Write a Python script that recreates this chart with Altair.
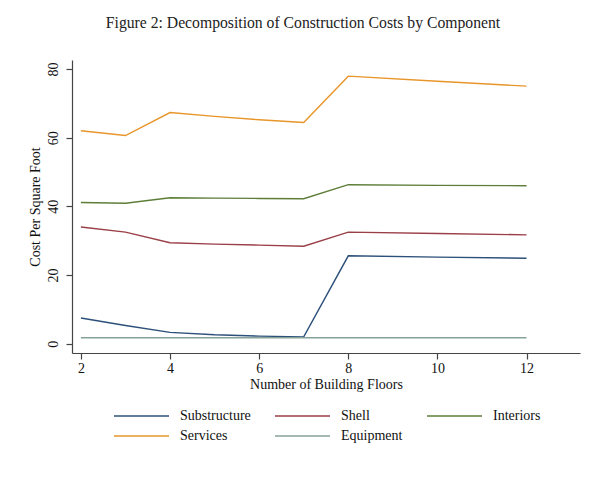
import altair as alt
import pandas as pd

floors = [2, 3, 4, 5, 6, 7, 8, 10, 12]
substructure = [7.5, 5.3, 3.3, 2.6, 2.2, 2.0, 25.6, 25.2, 24.9]
shell = [34.0, 32.5, 29.4, 29.0, 28.7, 28.4, 32.5, 32.1, 31.7]
interiors = [41.1, 40.9, 42.5, 42.4, 42.3, 42.2, 46.3, 46.1, 46.0]
services = [62.0, 60.6, 67.3, 66.2, 65.2, 64.4, 77.9, 76.4, 75.0]
equipment = [1.75, 1.75, 1.75, 1.75, 1.75, 1.75, 1.75, 1.75, 1.75]

components = ["Substructure", "Shell", "Interiors", "Services", "Equipment"]
colors = ["#2c5079", "#9a3f47", "#5d7e38", "#e8952a", "#86a29a"]

series = [substructure, shell, interiors, services, equipment]
rows = []
for name, vals in zip(components, series):
    for f, v in zip(floors, vals):
        rows.append({"floors": f, "cost": v, "component": name})
df = pd.DataFrame(rows)

FONT = "Liberation Serif"

chart = alt.Chart(df).mark_line(strokeWidth=1.4).encode(
    x=alt.X("floors:Q",
            scale=alt.Scale(domain=[1.8, 13.2], nice=False, zero=False),
            axis=alt.Axis(values=[2, 4, 6, 8, 10, 12], title="Number of Building Floors",
                          grid=False, tickSize=6, labelPadding=2, titlePadding=2)),
    y=alt.Y("cost:Q",
            scale=alt.Scale(domain=[-2.7, 82.6], nice=False, zero=False),
            axis=alt.Axis(values=[0, 20, 40, 60, 80], title="Cost Per Square Foot",
                          grid=False, tickSize=6, labelAngle=270, labelAlign="center",
                          labelBaseline="bottom", labelPadding=6, titlePadding=4)),
    color=alt.Color("component:N",
                    scale=alt.Scale(domain=components, range=colors),
                    sort=components,
                    legend=alt.Legend(title=None, orient="none", legendX=41, legendY=348,
                                      direction="horizontal", columns=3,
                                      symbolType="stroke", symbolSize=3025,
                                      symbolStrokeWidth=1.5, clipHeight=16,
                                      rowPadding=4, columnPadding=23, labelOffset=10,
                                      labelFont=FONT, labelFontSize=14, labelColor="#111",
                                      labelLimit=200)),
    detail="component:N",
).properties(
    width=508,
    height=293,
    padding={"left": 64, "top": 52, "right": 17, "bottom": 120},
    autosize=alt.AutoSizeParams(type="none"),
    background="white",
    title=alt.TitleParams("Figure 2: Decomposition of Construction Costs by Component",
                          font=FONT, fontSize=15.7, fontWeight="normal", color="#222",
                          anchor="middle", frame="group", dx=-23, offset=16,
                          baseline="alphabetic"),
).configure_view(stroke=None).configure_axis(
    labelFont=FONT, labelFontSize=14, labelColor="#111",
    titleFont=FONT, titleFontSize=14, titleFontWeight="normal", titleColor="#111",
    domainColor="#444", tickColor="#444", domainWidth=1.2, tickWidth=1.2,
)

chart.save("out.html", embed_options={"renderer": "svg", "actions": False})
